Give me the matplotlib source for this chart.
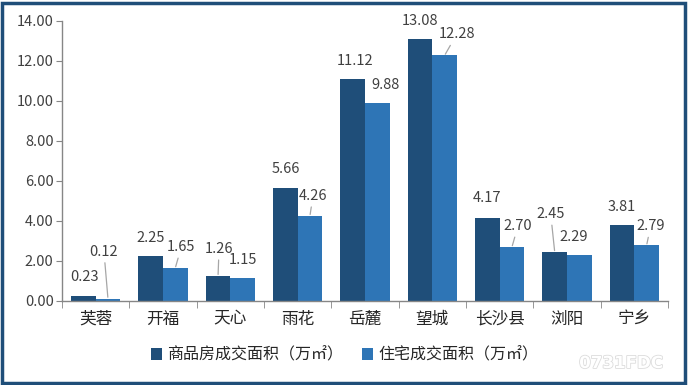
import matplotlib
matplotlib.use("Agg")
import matplotlib.pyplot as plt
from matplotlib.patches import Rectangle, Patch
import matplotlib.patheffects as pe
import numpy as np

plt.rcParams['font.family'] = ['Noto Sans CJK SC', 'DejaVu Sans']

categories = ["芙蓉", "开福", "天心", "雨花", "岳麓", "望城", "长沙县", "浏阳", "宁乡"]
commercial = [0.23, 2.25, 1.26, 5.66, 11.12, 13.08, 4.17, 2.45, 3.81]
residential = [0.12, 1.65, 1.15, 4.26, 9.88, 12.28, 2.70, 2.29, 2.79]
series_names = ["商品房成交面积（万㎡）", "住宅成交面积（万㎡）"]
yticks = [0, 2, 4, 6, 8, 10, 12, 14]

# label offsets in pixels (dx, dy up) and whether a leader line is drawn
dark_off = [(1, 19, False), (0, 18, False), (1, 27, True), (0, 19, False), (2, 18, False),
            (0, 18, False), (0, 20, False), (-4, 38, True), (0, 18, False)]
light_off = [(-4, 47, True), (6, 21, True), (0, 18, False), (3, 20, True), (8, 18, False),
             (12, 21, True), (6, 21, True), (-6, 18, False), (4, 19, True)]

dark = "#1F4E79"
light = "#2E75B6"

fig = plt.figure(figsize=(6.89, 3.85), dpi=100)
ax = fig.add_axes([62/689, 1-301/385, (668-62)/689, (301-21)/385])

x = np.arange(len(categories))
w = 0.365
b1 = ax.bar(x - w/2, commercial, w, color=dark, label=series_names[0])
b2 = ax.bar(x + w/2, residential, w, color=light, label=series_names[1])

ax.set_xlim(-0.5, len(categories) - 0.5)
ax.set_ylim(0, 14)
ax.set_yticks(yticks)
ax.set_yticklabels([f"{v:.2f}" for v in yticks], fontsize=10.5, color="#404040")
ax.set_xticks(x)
ax.set_xticklabels(categories, fontsize=12, color="#262626")
ax.set_xticks(np.arange(-0.5, len(categories)), minor=True)
ax.tick_params(axis='x', which='major', length=0, pad=7)
ax.tick_params(axis='x', which='minor', length=5, color="#868686", direction='out')
ax.tick_params(axis='y', length=4, color="#868686", pad=2)
for s in ['top', 'right']:
    ax.spines[s].set_visible(False)
for s in ['left', 'bottom']:
    ax.spines[s].set_color("#868686")
    ax.spines[s].set_linewidth(1.0)

def label(xc, val, off):
    dx, dy, line = off
    kw = {}
    if line:
        kw['arrowprops'] = dict(arrowstyle='-', color="#A6A6A6", lw=0.9, shrinkA=1, shrinkB=1)
    ax.annotate(f"{val:.2f}", xy=(xc, val), xytext=(dx, dy), textcoords='offset pixels',
                ha='center', va='center', fontsize=10.5, color="#404040", **kw)

for i in range(len(categories)):
    label(x[i] - w/2, commercial[i], dark_off[i])
    label(x[i] + w/2, residential[i], light_off[i])

handles = [Patch(facecolor=dark), Patch(facecolor=light)]
fig.legend(handles, series_names, loc='center', bbox_to_anchor=(0.5, 1-355/385), ncol=2,
           frameon=False, fontsize=11.5, handlelength=0.7, handleheight=0.7, handletextpad=0.3,
           columnspacing=1.2, labelcolor="#262626")

fig.text(621/689, 1-363/385, "0731FDC", ha='center', va='center', fontsize=12, color='white',
         fontweight='bold', family='DejaVu Sans',
         path_effects=[pe.withStroke(linewidth=1.2, foreground='#DCDCDC')])

fig.patches.append(Rectangle((0.0035, 0.006), 0.991, 0.987, transform=fig.transFigure,
                             fill=False, edgecolor=dark, linewidth=2.5))

fig.savefig("out.png", dpi=100)
